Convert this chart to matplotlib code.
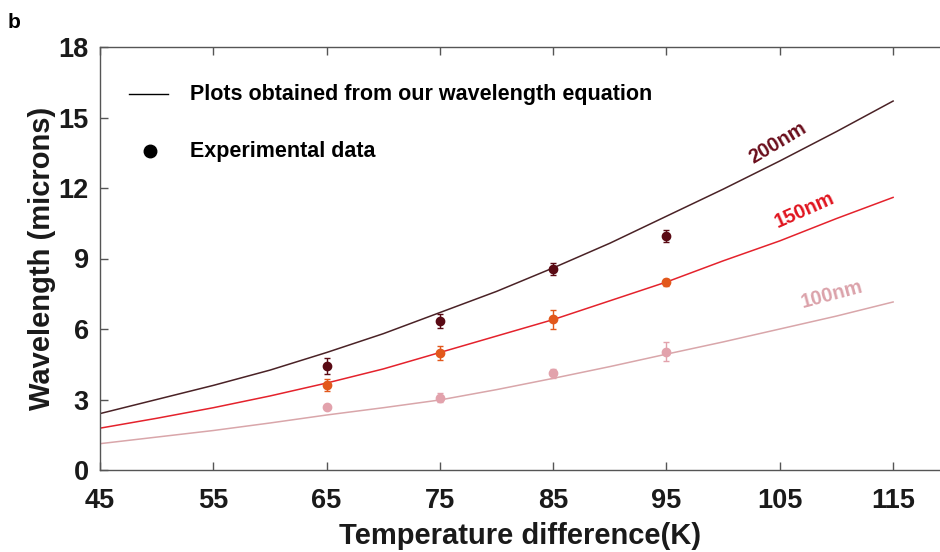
import numpy as np
import matplotlib.pyplot as plt

plt.rcParams['font.family'] = ['Liberation Sans', 'DejaVu Sans']

# model curves (every 5 K)
t_curve = [45, 50, 55, 60, 65, 70, 75, 80, 85, 90, 95, 100, 105, 110, 115]
w200 = [2.4, 3.0, 3.6, 4.25, 5.0, 5.8, 6.7, 7.6, 8.6, 9.65, 10.8, 11.95, 13.15, 14.4, 15.7]
w150 = [1.78, 2.2, 2.65, 3.15, 3.7, 4.3, 5.0, 5.7, 6.4, 7.2, 8.0, 8.9, 9.75, 10.7, 11.6]
w100 = [1.12, 1.4, 1.68, 2.0, 2.34, 2.65, 2.98, 3.42, 3.9, 4.4, 4.93, 5.45, 6.0, 6.55, 7.15]

# experimental points
t_exp = [65, 75, 85, 95]
e200 = [4.43, 6.34, 8.54, 9.97]
e200_err = [0.35, 0.3, 0.25, 0.25]
e150 = [3.62, 4.96, 6.42, 7.99]
e150_err = [0.25, 0.3, 0.4, 0.15]
e100 = [2.67, 3.08, 4.11, 5.04]
e100_err = [0.08, 0.2, 0.2, 0.4]

C200_LINE, C200_PT, C200_TXT = "#4a2226", "#5a0a14", "#6a0e1c"
C150_LINE, C150_PT, C150_TXT = "#e4222c", "#e2581c", "#e0141e"
C100_LINE, C100_PT, C100_TXT = "#d9a6aa", "#e2a2ac", "#dba2aa"

fig = plt.figure(figsize=(9.4, 5.52), dpi=100)
ax = fig.add_axes([100 / 940, 82 / 552, 840 / 940, 423 / 552])

ax.plot(t_curve, w200, color=C200_LINE, lw=1.1)
ax.plot(t_curve, w150, color=C150_LINE, lw=1.1)
ax.plot(t_curve, w100, color=C100_LINE, lw=1.1)

for y, err, c in [(e200, e200_err, C200_PT), (e150, e150_err, C150_PT), (e100, e100_err, C100_PT)]:
    ax.errorbar(t_exp, y, yerr=err, fmt='o', color=c, ms=6, elinewidth=1.0,
                capsize=2.5, capthick=1.0)

ax.text(104.8, 13.9, "200nm", color=C200_TXT, fontsize=14.5, fontweight='bold',
        rotation=31, ha='center', va='center')
ax.text(107.2, 11.05, "150nm", color=C150_TXT, fontsize=14.5, fontweight='bold',
        rotation=24, ha='center', va='center')
ax.text(109.6, 7.45, "100nm", color=C100_TXT, fontsize=14.5, fontweight='bold',
        rotation=15, ha='center', va='center')

# legend drawn by hand in axes coords
ax.plot([0.034, 0.081], [0.888, 0.888], transform=ax.transAxes, color="black", lw=1.0)
ax.plot([0.059], [0.754], transform=ax.transAxes, marker='o', color="black", ms=9)
ax.text(0.107, 0.888, "Plots obtained from our wavelength equation", transform=ax.transAxes,
        fontsize=15.5, fontweight='bold', va='center', ha='left')
ax.text(0.107, 0.754, "Experimental data", transform=ax.transAxes,
        fontsize=15.5, fontweight='bold', va='center', ha='left')

ax.set_xlim(45, 45 + 840 / 11.33)
ax.set_ylim(0, 18)
ax.set_xticks([45, 55, 65, 75, 85, 95, 105, 115])
ax.set_yticks([0, 3, 6, 9, 12, 15, 18])
ax.tick_params(direction='in', top=True, right=False, length=6, width=1,
               color="#555555", labelsize=19.5)
ax.tick_params(axis='x', pad=13)
ax.tick_params(axis='y', pad=8)
for lab in ax.get_xticklabels() + ax.get_yticklabels():
    lab.set_fontweight('bold')
    lab.set_color("#1a1a1a")
ax.spines['right'].set_visible(False)
for s in ['left', 'bottom', 'top']:
    ax.spines[s].set_color("#555555")
    ax.spines[s].set_linewidth(1.0)

ax.set_xlabel("Temperature difference(K)", fontsize=21, fontweight='bold', color="#1a1a1a", labelpad=6)
ax.set_ylabel("Wavelength (microns)", fontsize=21, fontweight='bold', color="#1a1a1a", labelpad=2)

fig.text(8 / 940, 1 - 22 / 552, "b", fontsize=15, fontweight='bold', va='center', ha='left')

fig.savefig("out.png", dpi=100)
